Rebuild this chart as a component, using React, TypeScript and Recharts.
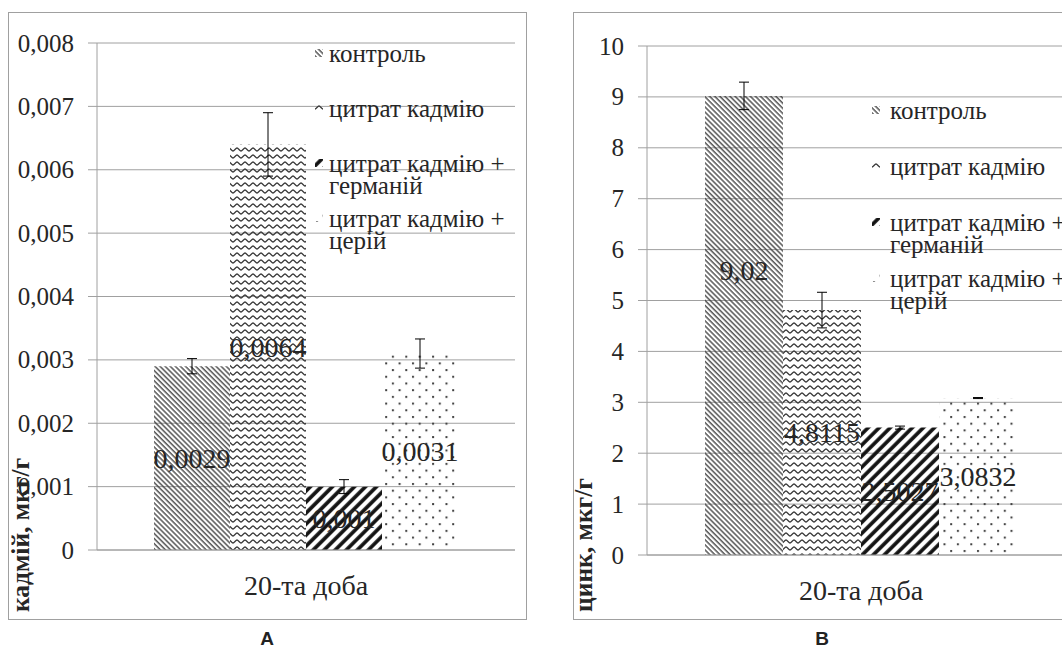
import {
  Bar,
  BarChart,
  CartesianGrid,
  ErrorBar,
  LabelList,
  Legend,
  XAxis,
  YAxis,
} from 'recharts'

const days: string[] = ['20-та доба']
const groups: string[] = [
  'контроль',
  'цитрат кадмію',
  'цитрат кадмію + германій',
  'цитрат кадмію + церій',
]

const cadmium: number[] = [0.0029, 0.0064, 0.001, 0.0031]
const cadmiumErr: number[] = [0.00012, 0.0005, 0.00011, 0.00023]
const cadmiumTicks: number[] = [0, 0.001, 0.002, 0.003, 0.004, 0.005, 0.006, 0.007, 0.008]

const zinc: number[] = [9.02, 4.8115, 2.5027, 3.0832]
const zincErr: number[] = [0.27, 0.35, 0.03, 0.01]
const zincTicks: number[] = [0, 1, 2, 3, 4, 5, 6, 7, 8, 9, 10]

const font = 'Liberation Serif, serif'
const gridColor = '#a0a0a0'
const ink = '#262626'

const comma = (v: unknown) => String(v).replace('.', ',')

const toRows = (values: number[], errors: number[]) =>
  days.map((day) => {
    const row: Record<string, string | number> = { day }
    values.forEach((v, i) => {
      row[`s${i}`] = v
      row[`e${i}`] = errors[i]
    })
    return row
  })

// hatch fills, one per group
const Patterns = ({ id }: { id: string }) => (
  <defs>
    <pattern id={`${id}-0`} width={3.6} height={3.6} patternUnits="userSpaceOnUse" patternTransform="rotate(-45)">
      <line x1={1} y1={0} x2={1} y2={3.6} stroke="#3a3a3a" strokeWidth={1.3} />
    </pattern>
    <pattern id={`${id}-1`} width={8} height={7} patternUnits="userSpaceOnUse">
      <path d="M0 5 C1.3 5 2.7 2 4 2 C5.3 2 6.7 5 8 5" fill="none" stroke="#3a3a3a" strokeWidth={1.3} />
    </pattern>
    <pattern id={`${id}-2`} width={7.8} height={7.8} patternUnits="userSpaceOnUse" patternTransform="rotate(45)">
      <line x1={2} y1={0} x2={2} y2={7.8} stroke="#111" strokeWidth={3.6} />
    </pattern>
    <pattern id={`${id}-3`} width={13.4} height={13.4} patternUnits="userSpaceOnUse">
      <rect x={1} y={1} width={2} height={2} fill="#404040" />
      <rect x={7.7} y={7.7} width={2} height={2} fill="#404040" />
    </pattern>
  </defs>
)

const makeLegend = (id: string, rowGap: number, textGap: number, width: number) => () => (
  <svg width={width} height={rowGap * groups.length} style={{ display: 'block', overflow: 'visible' }}>
    {groups.map((name, i) => {
      const [first, second] = name.split(' + ')
      return (
        <g key={name} transform={`translate(0, ${i * rowGap})`}>
          <rect x={0} y={7} width={8} height={8} fill={`url(#${id}-${i})`} />
          <text x={8 + textGap} y={11} dominantBaseline="central" fontFamily={font} fontSize={25} fill={ink}>
            {second ? `${first} +` : first}
          </text>
          {second && (
            <text x={8 + textGap} y={33} dominantBaseline="central" fontFamily={font} fontSize={25} fill={ink}>
              {second}
            </text>
          )}
        </g>
      )
    })}
  </svg>
)

const valueLabel = (shift: number) => (props: any) => {
  const box = props.viewBox ?? props
  const { x, y, width, height } = box
  return (
    <text
      x={x + width / 2}
      y={y + height / 2 + shift}
      textAnchor="middle"
      dominantBaseline="central"
      fontFamily={font}
      fontSize={28}
      fill={ink}
    >
      {comma(props.value)}
    </text>
  )
}

const yTick = (props: any) => (
  <text
    x={props.x}
    y={props.y}
    textAnchor="end"
    dominantBaseline="central"
    fontFamily={font}
    fontSize={25}
    fill={ink}
  >
    {comma(props.payload.value)}
  </text>
)

const xTick = (props: any) => (
  <text
    x={props.x}
    y={props.y}
    textAnchor="middle"
    dominantBaseline="central"
    fontFamily={font}
    fontSize={28}
    fill={ink}
  >
    {props.payload.value}
  </text>
)

type PanelProps = {
  id: string
  values: number[]
  errors: number[]
  ticks: number[]
  left: number
  chartWidth: number
  axisWidth: number
  margin: { top: number; right: number; bottom: number; left: number }
  gap: number
  legendAt: { left: number; top: number; width: number }
  rowGap: number
  textGap: number
  title: string
  titleX: number
  shifts: number[]
}

const Panel = (p: PanelProps) => (
  <div
    style={{
      position: 'absolute',
      left: p.left,
      top: 12,
      width: p.chartWidth + 2,
      height: 608,
      border: `1px solid ${gridColor}`,
      boxSizing: 'border-box',
    }}
  >
    <BarChart
      width={p.chartWidth}
      height={606}
      data={toRows(p.values, p.errors)}
      margin={p.margin}
      barCategoryGap={p.gap}
      barGap={0}
      style={{ fontFamily: font }}
    >
      <Patterns id={p.id} />
      <CartesianGrid vertical={false} stroke={gridColor} />
      <XAxis
        dataKey="day"
        height={30}
        tickLine={false}
        tickSize={0}
        tickMargin={35}
        axisLine={{ stroke: gridColor }}
        tick={xTick}
      />
      <YAxis
        width={p.axisWidth}
        domain={[p.ticks[0], p.ticks[p.ticks.length - 1]]}
        ticks={p.ticks}
        interval={0}
        tickSize={9}
        tickMargin={14}
        axisLine={{ stroke: gridColor }}
        tickLine={{ stroke: gridColor }}
        tick={yTick}
      />
      <Legend
        layout="vertical"
        align="center"
        verticalAlign="middle"
        content={makeLegend(p.id, p.rowGap, p.textGap, p.legendAt.width)}
        wrapperStyle={{
          left: p.legendAt.left,
          top: p.legendAt.top,
          width: p.legendAt.width,
          height: 'auto',
        }}
      />
      {groups.map((name, i) => (
        <Bar
          key={name}
          dataKey={`s${i}`}
          name={name}
          fill={`url(#${p.id}-${i})`}
          isAnimationActive={false}
        >
          <ErrorBar dataKey={`e${i}`} width={5} stroke="#000" strokeWidth={1} direction="y" />
          <LabelList dataKey={`s${i}`} content={valueLabel(p.shifts[i])} />
        </Bar>
      ))}
      <text
        transform={`translate(${p.titleX}, 599) rotate(-90)`}
        dominantBaseline="central"
        fontFamily={font}
        fontWeight="bold"
        fontSize={25.5}
        fill={ink}
      >
        {p.title}
      </text>
    </BarChart>
  </div>
)

const letterStyle = {
  position: 'absolute' as const,
  top: 628,
  width: 20,
  textAlign: 'center' as const,
  fontFamily: '"Liberation Sans Narrow", "Liberation Sans", sans-serif',
  fontWeight: 'bold',
  fontSize: 19,
  color: '#222',
}

export default function App() {
  return (
    <div
      style={{
        position: 'absolute',
        left: 0,
        top: 0,
        width: 1062,
        height: 653,
        overflow: 'hidden',
        background: '#fff',
        fontFamily: font,
      }}
    >
      <Panel
        id="cd"
        values={cadmium}
        errors={cadmiumErr}
        ticks={cadmiumTicks}
        left={8}
        chartWidth={517}
        axisWidth={88}
        margin={{ top: 30, right: 11, bottom: 39, left: 0 }}
        gap={57}
        legendAt={{ left: 306, top: 29, width: 205 }}
        rowGap={55}
        textGap={6}
        title="кадмій, мкг/г"
        titleX={11}
        shifts={[0, 0, 0, 0]}
      />
      <Panel
        id="zn"
        values={zinc}
        errors={zincErr}
        ticks={zincTicks}
        left={573}
        chartWidth={520}
        axisWidth={73}
        margin={{ top: 33, right: 19, bottom: 34, left: 0 }}
        gap={58}
        legendAt={{ left: 298, top: 86, width: 215 }}
        rowGap={56}
        textGap={10}
        title="цинк, мкг/г"
        titleX={9}
        shifts={[-55, 0, 0, 0]}
      />
      <div style={{ ...letterStyle, left: 257 }}>A</div>
      <div style={{ ...letterStyle, left: 812 }}>B</div>
    </div>
  )
}
